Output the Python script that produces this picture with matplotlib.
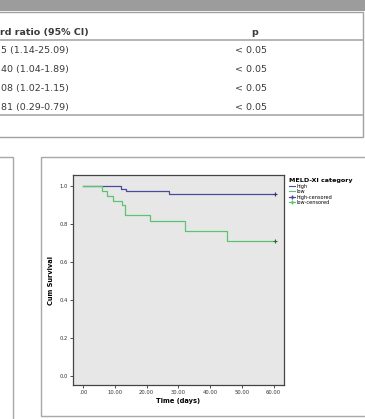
import numpy as np
import matplotlib
matplotlib.use("Agg")
import matplotlib.pyplot as plt
from matplotlib.lines import Line2D
from matplotlib.patches import Rectangle

# Table fragment (left part of the table is cut off in the source)
header_left = "rd ratio (95% CI)"
header_p = "p"
ratio_rows = ["5 (1.14-25.09)", "40 (1.04-1.89)", "08 (1.02-1.15)", "81 (0.29-0.79)"]
p_rows = ["< 0.05", "< 0.05", "< 0.05", "< 0.05"]

# Kaplan-Meier curves
t_high = [0, 12.0, 13.5, 27.2, 60.5]
s_high = [1.0, 0.985, 0.972, 0.956, 0.956]
t_low = [0, 5.8, 7.5, 9.5, 12.2, 13.3, 21.2, 32.1, 45.2, 60.5]
s_low = [1.0, 0.975, 0.948, 0.92, 0.90, 0.845, 0.818, 0.765, 0.712, 0.712]

x_ticks = [0, 10, 20, 30, 40, 50, 60]
x_ticklabels = [".00", "10.00", "20.00", "30.00", "40.00", "50.00", "60.00"]
y_ticks = [0.0, 0.2, 0.4, 0.6, 0.8, 1.0]
legend_labels = ["high", "low", "high-censored", "low-censored"]

W, H = 365, 419
fig = plt.figure(figsize=(W / 100, H / 100), dpi=100)
plt.rcParams['font.family'] = ['DejaVu Sans']


def px(x, y):
    # pixel coords (top-left origin) -> figure fraction
    return x / W, 1 - y / H


def box(x0, y0, x1, y1, ec='#a8a8a8', fc='none', lw=1.0):
    fig.patches.append(Rectangle(px(x0, y1), (x1 - x0) / W, (y1 - y0) / H,
                                 transform=fig.transFigure, ec=ec, fc=fc, lw=lw))


def hline(y, x0, x1, color='#a8a8a8', lw=1.0):
    fig.add_artist(Line2D([x0 / W, x1 / W], [1 - y / H, 1 - y / H],
                          transform=fig.transFigure, color=color, lw=lw))


# top grey band of the table caption
box(0, 0, W, 11, ec='none', fc='#9c9c9c')
# table box
box(-2, 11.5, 363, 136.5, ec='#a0a0a0', lw=1.0)
hline(40, 0, 363, lw=1.2)
hline(115.5, 0, 363, lw=1.2)

tfont = dict(fontsize=6.8, color='#3a3a3a', va='center')
fig.text(*px(0, 32.5), header_left, fontweight='bold', ha='left', **tfont)
fig.text(*px(255, 32.5), header_p, fontweight='bold', ha='center', **tfont)
row_y = [50.7, 69.5, 88.4, 107.3]
for y, r, p in zip(row_y, ratio_rows, p_rows):
    fig.text(*px(1, y), r, ha='left', **tfont)
    fig.text(*px(251, y), p, ha='center', **tfont)

# bottom panels
box(-2, 156.5, 12.5, 425, ec='#a8a8a8')
box(41, 156.5, 368, 415.5, ec='#a8a8a8')

# survival plot
ax = fig.add_axes([73 / W, 1 - 385 / H, 211 / W, 210 / H])
ax.set_facecolor('#e7e7e7')
for sp in ax.spines.values():
    sp.set_color('#444444')
    sp.set_linewidth(0.9)

c_high = '#4a4a9e'
c_low = '#5cc470'
ax.step(t_high, s_high, where='post', color=c_high, lw=0.9)
ax.step(t_low, s_low, where='post', color=c_low, lw=0.9)
ax.plot(t_high[-1], s_high[-1], marker='+', color='#333366', ms=3, mew=0.8)
ax.plot(t_low[-1], s_low[-1], marker='+', color='#336633', ms=3, mew=0.8)

ax.set_xlim(-3.2, 63.3)
ax.set_ylim(-0.047, 1.058)
ax.set_xticks(x_ticks)
ax.set_xticklabels(x_ticklabels)
ax.set_yticks(y_ticks)
ax.set_yticklabels([f"{v:.1f}" for v in y_ticks])
ax.tick_params(labelsize=3.8, length=2, width=0.6, colors='#333333', pad=1.5)
ax.set_xlabel("Time (days)", fontsize=4.8, fontweight='bold', labelpad=2.5)
ax.set_ylabel("Cum Survival", fontsize=4.8, fontweight='bold', labelpad=4)

handles = [Line2D([], [], color=c_high, lw=0.8),
           Line2D([], [], color=c_low, lw=0.8),
           Line2D([], [], color=c_high, lw=0.8, marker='+', ms=3),
           Line2D([], [], color=c_low, lw=0.8, marker='+', ms=3)]
leg = ax.legend(handles, legend_labels, loc='upper left', bbox_to_anchor=(1.01, 1.0),
                frameon=False, fontsize=3.6, title="MELD-XI category",
                title_fontproperties={'size': 4.6, 'weight': 'bold'},
                handlelength=1.2, handletextpad=0.3, labelspacing=0.1,
                borderaxespad=0.2, alignment='left')

fig.savefig("out.png", dpi=100)
